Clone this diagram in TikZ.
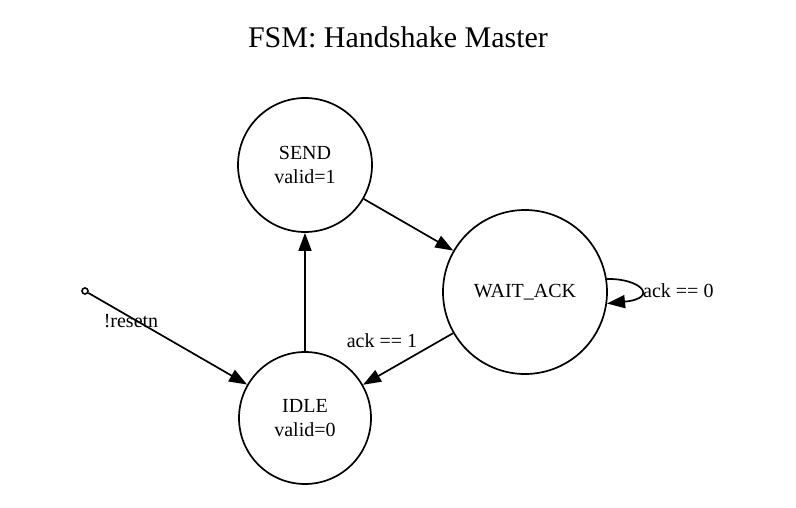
\documentclass[tikz,border=0pt]{standalone}
\usepackage{fontspec}
\setmainfont{Liberation Serif}
\usetikzlibrary{arrows.meta}
\begin{document}
\begin{tikzpicture}[x=1pt,y=-1pt,
  state/.style={circle,draw,line width=1.7pt,inner sep=0pt,align=center,font=\fontsize{20}{24}\selectfont},
  edge/.style={line width=1.7pt,-{Triangle[length=18pt,width=13pt]}},
  lbl/.style={inner sep=0pt,font=\fontsize{20}{24}\selectfont}]
\useasboundingbox (0,0) rectangle (796,508);
\node[font=\fontsize{30}{34}\selectfont,anchor=base] (title) at (398,48) {FSM: Handshake Master};
\node[state,minimum size=134pt] (send) at (305,165) {SEND\\valid=1};
\node[state,minimum size=164pt] (wait) at (525,292) {WAIT\_ACK};
\node[state,minimum size=132pt] (idle) at (305,418) {IDLE\\valid=0};
\node[circle,draw,line width=1.6pt,inner sep=0pt,minimum size=6pt] (start) at (85,291) {};
\draw[edge] (start) -- (idle);
\draw[edge] (idle) -- (send);
\draw[edge] (send) -- (wait);
\draw[edge] (wait) -- (idle);
\draw[edge] (wait.9) .. controls (640,278) and (660,298) .. (wait.-8);
\node[lbl,anchor=base] (l1) at (131,327) {!resetn};
\node[lbl,anchor=base] (l2) at (382,347) {ack == 1};
\node[lbl,anchor=base west] (l3) at (643,297) {ack == 0};
\end{tikzpicture}
\end{document}
